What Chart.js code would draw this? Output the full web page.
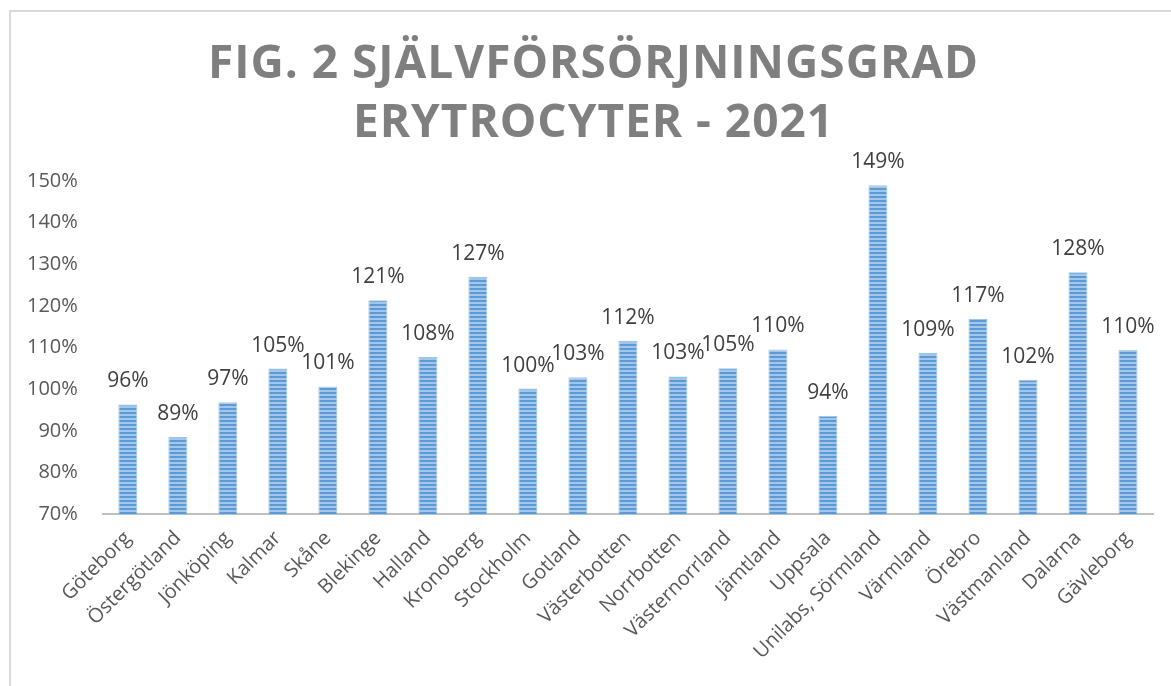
<!DOCTYPE html>
<html>
<head>
<meta charset="utf-8">
<script src="https://cdn.jsdelivr.net/npm/chart.js@4.4.1/dist/chart.umd.min.js"></script>
<style>
	html, body { margin: 0; padding: 0; background: #fff; overflow: hidden; }
	#frame { position: absolute; left: 9px; top: 10px; width: 1200px; height: 700px; border-left: 2px solid #d9d9d9; border-top: 2px solid #d9d9d9; }
	#title { position: absolute; left: 8px; top: 31px; width: 1171px; text-align: center; font-family: "Open Sans", sans-serif; font-weight: 700; font-size: 46px; line-height: 59px; letter-spacing: 1px; color: #7f7f7f; }
	#financeChart { position: absolute; left: 0; top: 0; }
</style>
</head>
<body>
<div id="frame"></div>
<canvas id="financeChart" width="1171" height="686"></canvas>
<div id="title">FIG. 2 SJÄLVFÖRSÖRJNINGSGRAD<br>ERYTROCYTER - 2021</div>
<script>
const regions = ["Göteborg", "Östergötland", "Jönköping", "Kalmar", "Skåne", "Blekinge", "Halland", "Kronoberg", "Stockholm", "Gotland", "Västerbotten", "Norrbotten", "Västernorrland", "Jämtland", "Uppsala", "Unilabs, Sörmland", "Värmland", "Örebro", "Västmanland", "Dalarna", "Gävleborg"];
const selfSufficiency = [96.4, 88.6, 96.9, 105.0, 100.7, 121.4, 107.8, 127.0, 100.2, 102.9, 111.7, 103.1, 105.1, 109.6, 93.7, 149.0, 108.8, 116.9, 102.3, 128.1, 109.5];
const yMin = 70;
const yMax = 150;
const yStep = 10;

const ctx = document.getElementById("financeChart").getContext("2d");

// striped fill like the original bars
function stripes() {
	const c = document.createElement("canvas");
	c.width = 4;
	c.height = 4;
	const g = c.getContext("2d");
	g.fillStyle = "#a3c5ea";
	g.fillRect(0, 0, 4, 4);
	g.fillStyle = "#5b9bd5";
	g.fillRect(0, 0, 4, 2);
	return ctx.createPattern(c, "repeat");
}

const barLabels = {
	id: "barLabels",
	afterDatasetsDraw(chart) {
		const c = chart.ctx;
		const meta = chart.getDatasetMeta(0);
		c.save();
		c.font = '21px "Open Sans"';
		c.fillStyle = "#404040";
		c.textAlign = "center";
		c.textBaseline = "middle";
		meta.data.forEach((bar, i) => {
			c.fillText(Math.round(selfSufficiency[i]) + "%", bar.x, bar.y - 23);
		});
		c.restore();
	},
};

const financeChart = new Chart(ctx, {
	type: "bar",
	data: {
		labels: regions,
		datasets: [
			{
				label: "Självförsörjningsgrad",
				data: selfSufficiency,
				backgroundColor: stripes(),
				borderColor: "#9dc3e6",
				borderWidth: 1,
				barPercentage: 0.38,
				categoryPercentage: 1,
			},
		],
	},
	options: {
		responsive: false,
		animation: false,
		layout: {
			padding: { left: 10, right: 18, top: 181, bottom: 10 },
		},
		plugins: {
			legend: { display: false },
			tooltip: { enabled: false },
		},
		scales: {
			x: {
				grid: { display: false, drawTicks: false },
				border: { display: true, color: "#bfbfbf", width: 2 },
				ticks: {
					color: "#595959",
					font: { family: "Open Sans", size: 20 },
					minRotation: 45,
					maxRotation: 45,
					autoSkip: false,
					padding: 12,
				},
			},
			y: {
				min: yMin,
				max: yMax,
				grid: { display: false },
				border: { display: false },
				ticks: {
					stepSize: yStep,
					color: "#595959",
					font: { family: "Open Sans", size: 20 },
					padding: 17,
					callback: (v) => v + "%",
				},
			},
		},
	},
	plugins: [barLabels],
});
</script>
</body>
</html>
